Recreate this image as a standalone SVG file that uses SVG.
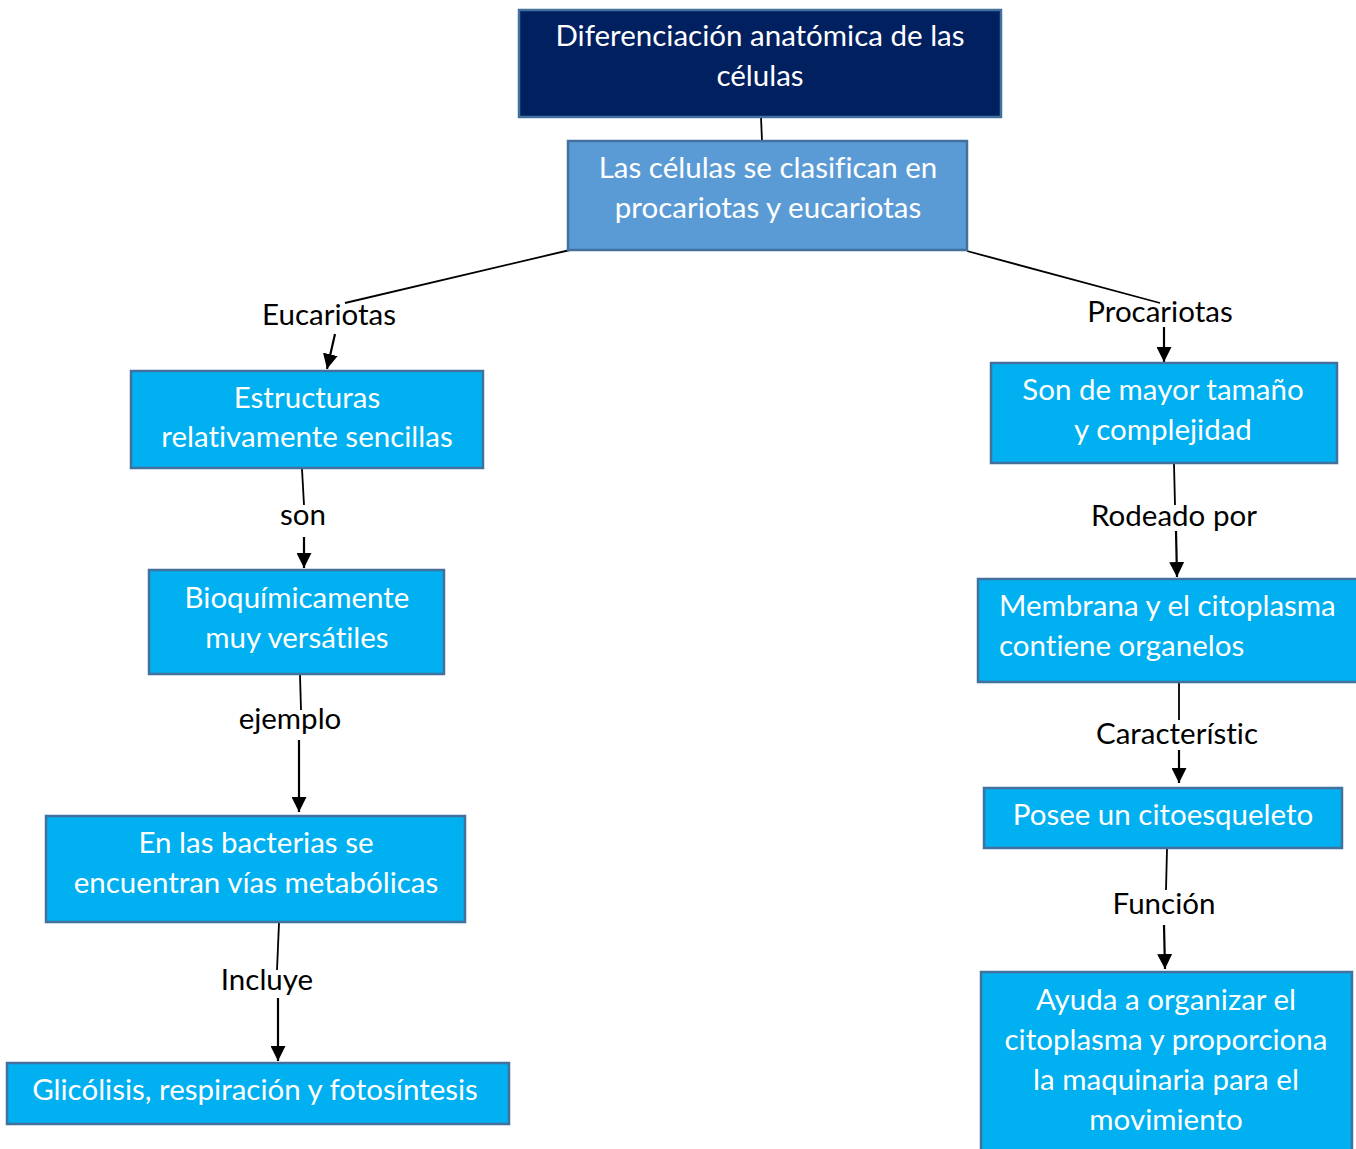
<svg xmlns="http://www.w3.org/2000/svg" width="1356" height="1149" viewBox="0 0 1356 1149">
<defs>
<marker id="ah" viewBox="0 0 15 15" refX="15" refY="7.5" markerWidth="15" markerHeight="15" markerUnits="userSpaceOnUse" orient="auto">
<path d="M0,0 L15,7.5 L0,15 Z" fill="#000"/>
</marker>
<style>
.box{fill:#00B0F0;stroke:#41719C;stroke-width:2.5}
.t{font-family:Lato,"Open Sans","Liberation Sans",sans-serif;font-size:29.5px;fill:#fff;text-anchor:middle;font-variant-ligatures:none}
.l{font-family:Lato,"Open Sans","Liberation Sans",sans-serif;font-size:29.5px;fill:#000;text-anchor:middle;font-variant-ligatures:none}
.c{stroke:#000;stroke-width:1.8;fill:none}
.a{stroke:#000;stroke-width:2.2;fill:none}
</style>
</defs>
<rect width="1356" height="1149" fill="#fff"/>
<g id="connectors">
<line class="c" x1="761" y1="117" x2="762" y2="141"/>
<line class="c" x1="570" y1="250" x2="345" y2="303"/>
<line class="a" x1="335" y1="334" x2="327" y2="369" marker-end="url(#ah)"/>
<line class="c" x1="967" y1="251" x2="1160" y2="303"/>
<line class="a" x1="1164" y1="327" x2="1164" y2="362" marker-end="url(#ah)"/>
<line class="c" x1="1174" y1="464" x2="1175" y2="505"/>
<line class="a" x1="1176" y1="531" x2="1177" y2="577" marker-end="url(#ah)"/>
<line class="c" x1="1179" y1="683" x2="1179" y2="720"/>
<line class="a" x1="1179" y1="750" x2="1179" y2="783" marker-end="url(#ah)"/>
<line class="c" x1="1167" y1="849" x2="1166" y2="890"/>
<line class="a" x1="1164" y1="925" x2="1165" y2="969" marker-end="url(#ah)"/>
<line class="c" x1="302" y1="469" x2="304" y2="505"/>
<line class="a" x1="304" y1="537" x2="304" y2="568" marker-end="url(#ah)"/>
<line class="c" x1="300" y1="675" x2="301" y2="710"/>
<line class="a" x1="299" y1="740" x2="299" y2="812" marker-end="url(#ah)"/>
<line class="c" x1="279" y1="923" x2="277" y2="970"/>
<line class="a" x1="278" y1="998" x2="278" y2="1061" marker-end="url(#ah)"/>
<text class="l" x="329" y="325">Eucariotas</text>
<text class="l" x="1160" y="322">Procariotas</text>
<text class="l" x="1174" y="526">Rodeado por</text>
<text class="l" x="1177" y="744">Característic</text>
<text class="l" x="1164" y="914">Función</text>
<text class="l" x="303" y="525">son</text>
<text class="l" x="290" y="729">ejemplo</text>
<text class="l" x="267" y="990">Incluye</text>
</g>
<g id="n1">
<rect x="519" y="10" width="482" height="107" fill="#002060" stroke="#41719C" stroke-width="2.5"/>
<text class="t" x="760" y="46">Diferenciación anatómica de las</text>
<text class="t" x="760" y="86">células</text>
</g>
<g id="n2">
<rect x="568" y="141" width="399" height="109" fill="#5B9BD5" stroke="#41719C" stroke-width="2.5"/>
<text class="t" x="768" y="178">Las células se clasifican en</text>
<text class="t" x="768" y="218">procariotas y eucariotas</text>
</g>
<g id="n3">
<rect class="box" x="131" y="371" width="352" height="97"/>
<text class="t" x="307" y="408">Estructuras</text>
<text class="t" x="307" y="447">relativamente sencillas</text>
</g>
<g id="n4">
<rect class="box" x="149" y="570" width="295" height="104"/>
<text class="t" x="297" y="608">Bioquímicamente</text>
<text class="t" x="297" y="648">muy versátiles</text>
</g>
<g id="n5">
<rect class="box" x="46" y="816" width="419" height="106"/>
<text class="t" x="256" y="853">En las bacterias se</text>
<text class="t" x="256" y="893">encuentran vías metabólicas</text>
</g>
<g id="n6">
<rect class="box" x="7" y="1063" width="502" height="61"/>
<text class="t" x="255" y="1100">Glicólisis, respiración y fotosíntesis</text>
</g>
<g id="n7">
<rect class="box" x="991" y="363" width="346" height="100"/>
<text class="t" x="1163" y="400">Son de mayor tamaño</text>
<text class="t" x="1163" y="440">y complejidad</text>
</g>
<g id="n8">
<rect class="box" x="978" y="579" width="380" height="103"/>
<text class="t" x="999" y="616" style="text-anchor:start">Membrana y el citoplasma</text>
<text class="t" x="999" y="656" style="text-anchor:start">contiene organelos</text>
</g>
<g id="n9">
<rect class="box" x="984" y="788" width="358" height="60"/>
<text class="t" x="1163" y="825">Posee un citoesqueleto</text>
</g>
<g id="n10">
<rect class="box" x="981" y="972" width="371" height="180"/>
<text class="t" x="1166" y="1010">Ayuda a organizar el</text>
<text class="t" x="1166" y="1050">citoplasma y proporciona</text>
<text class="t" x="1166" y="1090">la maquinaria para el</text>
<text class="t" x="1166" y="1130">movimiento</text>
</g>
</svg>
